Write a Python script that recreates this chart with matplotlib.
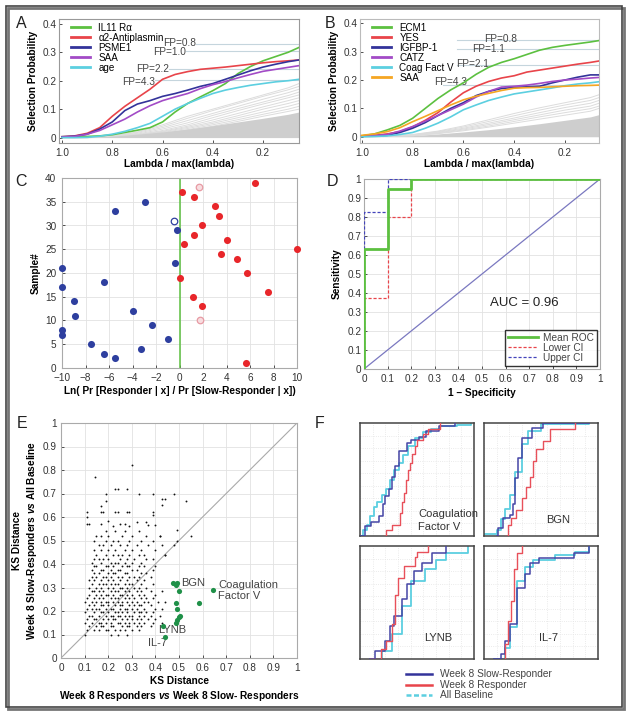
import matplotlib
matplotlib.use("Agg")
import matplotlib.pyplot as plt
from matplotlib.lines import Line2D
from matplotlib.patches import Rectangle
import numpy as np

plt.rcParams['font.family'] = ['Liberation Sans', 'DejaVu Sans']
plt.rcParams['mathtext.fontset'] = 'custom'
plt.rcParams['mathtext.it'] = 'Liberation Sans:italic:bold'
plt.rcParams['mathtext.rm'] = 'Liberation Sans:bold'

W, H = 629, 714
fig = plt.figure(figsize=(W / 100, H / 100), dpi=100)

# ---------------- data ----------------
lam = [1.0, 0.95, 0.9, 0.85, 0.8, 0.75, 0.7, 0.65, 0.6, 0.55, 0.5, 0.45, 0.4, 0.35, 0.3, 0.25, 0.2, 0.15, 0.1, 0.057]
lamB = [1.0, 0.95, 0.9, 0.85, 0.8, 0.75, 0.7, 0.65, 0.6, 0.55, 0.5, 0.45, 0.4, 0.35, 0.3, 0.25, 0.2, 0.15, 0.1, 0.066]

A_names = ["IL11 R\u03b1", "\u03b12-Antiplasmin", "PSME1", "SAA", "age"]
A_il11 = [0.003, 0.003, 0.004, 0.006, 0.01, 0.018, 0.026, 0.035, 0.055, 0.09, 0.12, 0.143, 0.165, 0.19, 0.225, 0.25, 0.27, 0.285, 0.3, 0.317]
A_a2ap = [0.003, 0.006, 0.015, 0.035, 0.075, 0.11, 0.14, 0.17, 0.205, 0.222, 0.232, 0.24, 0.244, 0.248, 0.253, 0.258, 0.263, 0.267, 0.27, 0.273]
A_psme1 = [0.003, 0.005, 0.012, 0.03, 0.055, 0.095, 0.118, 0.13, 0.145, 0.155, 0.167, 0.18, 0.19, 0.205, 0.22, 0.235, 0.248, 0.258, 0.267, 0.273]
A_saa = [0.002, 0.004, 0.012, 0.025, 0.045, 0.065, 0.09, 0.112, 0.13, 0.143, 0.155, 0.172, 0.186, 0.197, 0.21, 0.222, 0.233, 0.24, 0.247, 0.253]
A_age = [0.0, 0.0, 0.001, 0.005, 0.012, 0.022, 0.035, 0.05, 0.075, 0.1, 0.12, 0.138, 0.155, 0.167, 0.176, 0.184, 0.19, 0.196, 0.2, 0.205]

B_names = ["ECM1", "YES", "IGFBP-1", "CATZ", "Coag Fact V", "SAA"]
B_ecm1 = [0.003, 0.01, 0.024, 0.04, 0.065, 0.1, 0.135, 0.165, 0.19, 0.22, 0.245, 0.262, 0.275, 0.29, 0.305, 0.315, 0.322, 0.328, 0.334, 0.339]
B_yes = [0.003, 0.005, 0.01, 0.018, 0.035, 0.058, 0.085, 0.122, 0.155, 0.178, 0.195, 0.207, 0.215, 0.228, 0.235, 0.242, 0.249, 0.256, 0.262, 0.267]
B_igfbp1 = [0.002, 0.003, 0.005, 0.015, 0.03, 0.05, 0.075, 0.1, 0.12, 0.145, 0.16, 0.17, 0.174, 0.176, 0.178, 0.19, 0.2, 0.21, 0.218, 0.218]
B_catz = [0.002, 0.004, 0.008, 0.02, 0.036, 0.055, 0.075, 0.095, 0.115, 0.14, 0.16, 0.175, 0.178, 0.182, 0.188, 0.195, 0.2, 0.203, 0.207, 0.209]
B_coagv = [0.0, 0.001, 0.003, 0.008, 0.015, 0.03, 0.048, 0.07, 0.095, 0.112, 0.128, 0.14, 0.151, 0.158, 0.165, 0.172, 0.18, 0.186, 0.19, 0.194]
B_saa = [0.005, 0.01, 0.018, 0.032, 0.053, 0.072, 0.092, 0.112, 0.13, 0.143, 0.153, 0.163, 0.171, 0.173, 0.174, 0.176, 0.178, 0.18, 0.181, 0.182]

grid_lam = [1.0, 0.9, 0.8, 0.7, 0.6, 0.5, 0.4, 0.3, 0.2, 0.1, 0.057]
A_grey = [
    [0, 0.002, 0.006, 0.02, 0.045, 0.075, 0.10, 0.125, 0.15, 0.175, 0.19],
    [0, 0.001, 0.005, 0.018, 0.04, 0.068, 0.095, 0.12, 0.145, 0.168, 0.18],
    [0, 0.001, 0.004, 0.015, 0.035, 0.06, 0.085, 0.11, 0.135, 0.158, 0.17],
    [0, 0.001, 0.004, 0.012, 0.03, 0.052, 0.078, 0.102, 0.125, 0.148, 0.16],
    [0, 0.0, 0.003, 0.01, 0.025, 0.045, 0.07, 0.095, 0.118, 0.14, 0.15],
    [0, 0.0, 0.003, 0.01, 0.022, 0.04, 0.062, 0.085, 0.108, 0.13, 0.14],
    [0, 0.0, 0.002, 0.008, 0.02, 0.036, 0.055, 0.077, 0.1, 0.12, 0.13],
    [0, 0.0, 0.002, 0.007, 0.018, 0.032, 0.05, 0.07, 0.09, 0.11, 0.12],
    [0, 0.0, 0.002, 0.006, 0.015, 0.028, 0.045, 0.063, 0.082, 0.1, 0.11],
    [0, 0.0, 0.001, 0.005, 0.013, 0.025, 0.04, 0.057, 0.075, 0.092, 0.10],
]
A_dense = [0, 0.001, 0.005, 0.012, 0.02, 0.03, 0.042, 0.055, 0.068, 0.082, 0.09]
grid_lamB = [1.0, 0.9, 0.8, 0.7, 0.6, 0.5, 0.4, 0.3, 0.2, 0.1, 0.066]
B_grey = [
    [0, 0.002, 0.008, 0.02, 0.038, 0.06, 0.082, 0.102, 0.12, 0.138, 0.148],
    [0, 0.002, 0.007, 0.018, 0.034, 0.054, 0.074, 0.094, 0.112, 0.128, 0.138],
    [0, 0.001, 0.006, 0.016, 0.03, 0.048, 0.066, 0.085, 0.103, 0.118, 0.128],
    [0, 0.001, 0.005, 0.014, 0.027, 0.043, 0.06, 0.077, 0.094, 0.108, 0.118],
    [0, 0.001, 0.004, 0.012, 0.024, 0.038, 0.054, 0.07, 0.085, 0.099, 0.108],
    [0, 0.001, 0.004, 0.011, 0.021, 0.034, 0.048, 0.062, 0.076, 0.09, 0.1],
]
B_dense = [0, 0.001, 0.004, 0.01, 0.017, 0.025, 0.035, 0.046, 0.058, 0.07, 0.078]

A_fp_labels = ["FP=0.8", "FP=1.0", "FP=2.2", "FP=4.3"]
A_fp_levels = [0.33, 0.303, 0.242, 0.203]
A_fp_text_y = [0.334, 0.30, 0.242, 0.197]
A_fp_start = [0.465, 0.505, 0.575, 0.63]
B_fp_labels = ["FP=0.8", "FP=1.1", "FP=2.1", "FP=4.3"]
B_fp_levels = [0.341, 0.309, 0.252, 0.182]
B_fp_text_y = [0.344, 0.308, 0.257, 0.193]
B_fp_text_x = [0.39, 0.436, 0.50, 0.587]
B_fp_start = [0.626, 0.626, 0.626, 0.68]

C_slow_x = [-10, -10, -10, -10, -9.0, -8.9, -7.5, -6.4, -6.4, -5.5, -5.5, -4.0, -3.3, -2.9, -2.3, -1.0, -0.4, -0.2]
C_slow_y = [21, 17, 8, 7, 14, 11, 5, 3, 18, 2, 33, 12, 4, 35, 9, 6, 22, 29]
C_slow_open_x = [-0.5]
C_slow_open_y = [31]
C_resp_x = [0.2, 1.2, 0.05, 0.4, 1.25, 1.9, 1.15, 1.9, 3.0, 3.4, 4.0, 3.5, 4.9, 5.75, 7.5, 10.0, 6.4, 5.7]
C_resp_y = [37, 36, 19, 26, 28, 30, 15, 13, 34, 32, 27, 24, 23, 20, 16, 25, 39, 1]
C_resp_open_x = [1.7, 1.75]
C_resp_open_y = [38, 10]

D_mean_x = [0, 0, 0.1, 0.1, 0.2, 0.2, 1.0]
D_mean_y = [0, 0.632, 0.632, 0.95, 0.95, 1.0, 1.0]
D_low_x = [0, 0, 0.1, 0.1, 0.2, 0.2, 1.0]
D_low_y = [0, 0.375, 0.375, 0.8, 0.8, 1.0, 1.0]
D_up_x = [0, 0, 0.1, 0.1, 1.0]
D_up_y = [0, 0.825, 0.825, 1.0, 1.0]

E_rows_y = [0.10, 0.12, 0.135, 0.15, 0.165, 0.18, 0.195, 0.21, 0.225, 0.24, 0.255, 0.27, 0.285, 0.30,
            0.315, 0.33, 0.345, 0.36, 0.375, 0.39, 0.405, 0.42, 0.44, 0.46, 0.48, 0.50, 0.52, 0.54]
E_rows_x = [
    [0.10, 0.21, 0.24, 0.28],
    [0.11, 0.14, 0.16, 0.19, 0.20, 0.23, 0.25, 0.27, 0.30, 0.33],
    [0.12, 0.15, 0.17, 0.18, 0.21, 0.22, 0.26, 0.28, 0.29, 0.32, 0.34, 0.38],
    [0.10, 0.13, 0.16, 0.17, 0.19, 0.21, 0.24, 0.25, 0.27, 0.29, 0.31, 0.33, 0.35, 0.39, 0.43],
    [0.11, 0.14, 0.15, 0.18, 0.20, 0.22, 0.23, 0.26, 0.28, 0.30, 0.32, 0.34, 0.37, 0.40],
    [0.12, 0.13, 0.16, 0.19, 0.21, 0.22, 0.24, 0.25, 0.27, 0.29, 0.30, 0.33, 0.35, 0.38, 0.42],
    [0.10, 0.14, 0.17, 0.18, 0.20, 0.23, 0.24, 0.26, 0.28, 0.31, 0.33, 0.34, 0.36, 0.39],
    [0.11, 0.13, 0.15, 0.16, 0.19, 0.21, 0.22, 0.25, 0.27, 0.28, 0.30, 0.32, 0.35, 0.40, 0.43],
    [0.12, 0.14, 0.17, 0.18, 0.20, 0.23, 0.25, 0.26, 0.29, 0.31, 0.33, 0.34, 0.38],
    [0.10, 0.13, 0.15, 0.17, 0.19, 0.20, 0.22, 0.24, 0.26, 0.28, 0.30, 0.32, 0.35, 0.37, 0.41, 0.44],
    [0.11, 0.14, 0.16, 0.18, 0.21, 0.23, 0.24, 0.27, 0.29, 0.31, 0.34, 0.36, 0.39],
    [0.12, 0.15, 0.17, 0.19, 0.20, 0.22, 0.25, 0.26, 0.28, 0.30, 0.33, 0.35, 0.40],
    [0.13, 0.14, 0.16, 0.18, 0.21, 0.23, 0.24, 0.27, 0.29, 0.32, 0.34, 0.38, 0.43],
    [0.12, 0.15, 0.17, 0.20, 0.22, 0.25, 0.26, 0.28, 0.31, 0.33, 0.36],
    [0.13, 0.16, 0.18, 0.19, 0.21, 0.23, 0.24, 0.27, 0.29, 0.30, 0.34, 0.39],
    [0.12, 0.14, 0.17, 0.20, 0.22, 0.25, 0.28, 0.32, 0.35],
    [0.13, 0.15, 0.18, 0.19, 0.21, 0.24, 0.26, 0.29, 0.31, 0.33, 0.38],
    [0.14, 0.16, 0.20, 0.22, 0.23, 0.27, 0.28, 0.34, 0.36],
    [0.13, 0.17, 0.18, 0.21, 0.24, 0.25, 0.30, 0.32, 0.39],
    [0.14, 0.15, 0.19, 0.20, 0.22, 0.26, 0.28, 0.29, 0.33, 0.35, 0.40],
    [0.13, 0.17, 0.21, 0.23, 0.24, 0.27, 0.30, 0.34],
    [0.14, 0.16, 0.18, 0.20, 0.25, 0.28, 0.31, 0.36, 0.39],
    [0.15, 0.19, 0.22, 0.24, 0.26, 0.29, 0.33, 0.35, 0.44],
    [0.14, 0.17, 0.20, 0.23, 0.27, 0.30, 0.34, 0.40],
    [0.16, 0.18, 0.21, 0.25, 0.28, 0.32, 0.37, 0.43],
    [0.14, 0.19, 0.22, 0.24, 0.29, 0.34, 0.39],
    [0.15, 0.17, 0.20, 0.26, 0.30, 0.36, 0.42],
    [0.19, 0.23, 0.27, 0.33],
]
E_out_x = [0.30, 0.145, 0.19, 0.19, 0.23, 0.24, 0.28, 0.33, 0.39, 0.43, 0.44, 0.43, 0.48, 0.53, 0.17, 0.11, 0.11,
           0.17, 0.18, 0.23, 0.24, 0.28, 0.29, 0.39, 0.39, 0.11, 0.12, 0.17, 0.20, 0.25, 0.27, 0.32, 0.36, 0.37,
           0.40, 0.22, 0.29, 0.49, 0.49, 0.55, 0.48, 0.42, 0.44]
E_out_y = [0.82, 0.77, 0.70, 0.67, 0.72, 0.72, 0.72, 0.70, 0.70, 0.675, 0.675, 0.65, 0.70, 0.67, 0.645, 0.62, 0.60,
           0.62, 0.62, 0.62, 0.62, 0.62, 0.62, 0.62, 0.61, 0.57, 0.57, 0.57, 0.585, 0.57, 0.57, 0.58, 0.58, 0.565,
           0.565, 0.56, 0.56, 0.545, 0.50, 0.52, 0.48, 0.52, 0.44]
E_sel_x = [0.476, 0.487, 0.493, 0.50, 0.643, 0.586, 0.489, 0.493, 0.499, 0.49, 0.489, 0.434, 0.442, 0.505]
E_sel_y = [0.318, 0.312, 0.32, 0.286, 0.288, 0.234, 0.233, 0.21, 0.173, 0.162, 0.148, 0.138, 0.091, 0.178]

F_titles = ["Coagulation\nFactor V", "BGN", "LYNB", "IL-7"]
F_slow_x = [
    [0.0, 0.04, 0.10, 0.17, 0.20, 0.22, 0.25, 0.28, 0.31, 0.34, 0.41, 0.45, 0.52, 0.58, 0.69, 0.83],
    [0.11, 0.12, 0.17, 0.23, 0.25, 0.27, 0.30, 0.33, 0.42, 0.52, 0.92],
    [0.09, 0.13, 0.22, 0.26, 0.30, 0.37, 0.41, 0.47, 0.54, 0.63, 0.75],
    [0.09, 0.15, 0.18, 0.23, 0.29, 0.36, 0.40, 0.48, 0.79, 0.92],
]
F_slow_y = [
    [0.0, 0.09, 0.12, 0.18, 0.28, 0.35, 0.42, 0.52, 0.62, 0.75, 0.82, 0.85, 0.88, 0.93, 0.97, 1.0],
    [0.0, 0.07, 0.16, 0.19, 0.28, 0.51, 0.69, 0.87, 0.96, 1.0, 1.0],
    [0.0, 0.07, 0.16, 0.29, 0.38, 0.53, 0.66, 0.78, 0.85, 0.94, 1.0],
    [0.0, 0.04, 0.16, 0.31, 0.63, 0.75, 0.85, 0.89, 0.94, 1.0],
]
F_resp_x = [
    [0.21, 0.23, 0.28, 0.35, 0.37, 0.39, 0.40, 0.42, 0.44, 0.46, 0.48, 0.50, 0.55, 0.60, 0.70],
    [0.18, 0.21, 0.24, 0.28, 0.33, 0.37, 0.40, 0.43, 0.46, 0.52, 0.58, 0.80],
    [0.09, 0.18, 0.23, 0.28, 0.31, 0.33, 0.39, 0.48, 0.50, 0.60],
    [0.17, 0.18, 0.21, 0.24, 0.26, 0.29, 0.33],
]
F_resp_y = [
    [0.0, 0.05, 0.10, 0.20, 0.30, 0.38, 0.50, 0.58, 0.65, 0.73, 0.80, 0.85, 0.90, 0.95, 1.0],
    [0.0, 0.10, 0.16, 0.23, 0.34, 0.43, 0.52, 0.66, 0.77, 0.84, 0.95, 1.0],
    [0.0, 0.09, 0.16, 0.31, 0.57, 0.72, 0.82, 0.90, 0.95, 1.0],
    [0.0, 0.13, 0.34, 0.51, 0.80, 0.94, 1.0],
]
F_base_x = [
    [0.0, 0.03, 0.06, 0.09, 0.12, 0.15, 0.19, 0.23, 0.26, 0.30, 0.34, 0.38, 0.42, 0.48, 0.55, 0.62, 0.70, 0.85, 0.97],
    [0.0, 0.11, 0.15, 0.18, 0.23, 0.27, 0.33, 0.39, 0.50, 0.92],
    [0.13, 0.19, 0.28, 0.37, 0.45, 0.57, 0.67, 0.75, 0.95],
    [0.09, 0.18, 0.23, 0.29, 0.36, 0.43, 0.62, 0.80, 0.92],
]
F_base_y = [
    [0.0, 0.05, 0.10, 0.18, 0.26, 0.30, 0.36, 0.42, 0.50, 0.58, 0.65, 0.72, 0.80, 0.87, 0.92, 0.95, 0.97, 0.98, 0.99],
    [0.02, 0.05, 0.15, 0.24, 0.36, 0.57, 0.81, 0.93, 0.99, 1.0],
    [0.0, 0.07, 0.22, 0.47, 0.69, 0.80, 0.88, 0.94, 0.99],
    [0.0, 0.10, 0.28, 0.69, 0.81, 0.88, 0.92, 0.95, 1.0],
]

# ---------------- styles ----------------
c_green = '#5cc040'
c_red = '#e8444a'
c_blue = '#33339a'
c_purple = '#a24bc6'
c_cyan = '#5ccfe0'
c_orange = '#f5a623'
tick_col = '#333333'
TFS = 7.2
LFS = 7.3


def ax_px(l, t, r, b):
    return fig.add_axes([l / W, 1 - b / H, (r - l) / W, (b - t) / H])


def style(ax, spine_col='#999999'):
    for s in ax.spines.values():
        s.set_color(spine_col)
        s.set_linewidth(0.8)
    ax.tick_params(labelsize=TFS, colors=tick_col, length=2, width=0.6, direction='in', pad=2)
    ax.tick_params(axis='x', pad=3.5)


bold_font = ['Liberation Sans', 'DejaVu Sans']

# ---------------- Panel A ----------------
axA = ax_px(59, 19, 299, 143)
for g in A_grey:
    axA.plot(grid_lam, g, color='#dcdcdc', lw=0.7, zorder=1)
axA.fill_between(grid_lam, 0, A_dense, color='#cecece', lw=0, zorder=1)
for lev, st in zip(A_fp_levels, A_fp_start):
    axA.plot([st, 0.057], [lev, lev], color='#c5d5dd', lw=0.8, zorder=2)
for lab, ty, st in zip(A_fp_labels, A_fp_text_y, A_fp_start):
    axA.text(st, ty, lab, ha='right', va='center', fontsize=7.3, color='#444444', zorder=3)
for ys, col, nm in zip([A_il11, A_a2ap, A_psme1, A_saa, A_age],
                       [c_green, c_red, c_blue, c_purple, c_cyan], A_names):
    axA.plot(lam, ys, color=col, lw=1.2, label=nm, zorder=4)
axA.set_xlim(1.012, 0.057)
axA.set_ylim(-0.019, 0.417)
axA.set_xticks([1.0, 0.8, 0.6, 0.4, 0.2])
axA.set_xticklabels(["1.0", "0.8", "0.6", "0.4", "0.2"])
axA.set_yticks([0, 0.1, 0.2, 0.3, 0.4])
axA.set_yticklabels(["0", "0.1", "0.2", "0.3", "0.4"])
style(axA)
axA.set_xlabel("Lambda / max(lambda)", fontsize=LFS, fontweight='bold', family=bold_font, labelpad=1)
axA.set_ylabel("Selection Probability", fontsize=LFS, fontweight='bold', family=bold_font, labelpad=3)
legA = axA.legend(loc='upper left', bbox_to_anchor=(0.02, 1.025), frameon=False, fontsize=7.1,
                  handlelength=2.0, handletextpad=0.8, labelspacing=0.0, borderpad=0.2)
for l in legA.get_lines():
    l.set_linewidth(2)

# ---------------- Panel B ----------------
axB = ax_px(360, 19, 599, 143)
for g in B_grey:
    axB.plot(grid_lamB, g, color='#dcdcdc', lw=0.7, zorder=1)
axB.fill_between(grid_lamB, 0, B_dense, color='#cecece', lw=0, zorder=1)
for lev, st in zip(B_fp_levels, B_fp_start):
    axB.plot([st, 0.066], [lev, lev], color='#c5d5dd', lw=0.8, zorder=2)
for lab, ty, tx in zip(B_fp_labels, B_fp_text_y, B_fp_text_x):
    axB.text(tx, ty, lab, ha='right', va='center', fontsize=7.3, color='#444444', zorder=3)
for ys, col, nm in zip([B_ecm1, B_yes, B_igfbp1, B_catz, B_coagv, B_saa],
                       [c_green, c_red, c_blue, c_purple, c_cyan, c_orange], B_names):
    axB.plot(lamB, ys, color=col, lw=1.2, label=nm, zorder=4)
axB.set_xlim(1.007, 0.066)
axB.set_ylim(-0.022, 0.415)
axB.set_xticks([1.0, 0.8, 0.6, 0.4, 0.2])
axB.set_xticklabels(["1.0", "0.8", "0.6", "0.4", "0.2"])
axB.set_yticks([0, 0.1, 0.2, 0.3, 0.4])
axB.set_yticklabels(["0", "0.1", "0.2", "0.3", "0.4"])
style(axB, '#bbbbbb')
axB.set_xlabel("Lambda / max(lambda)", fontsize=LFS, fontweight='bold', family=bold_font, labelpad=1)
axB.set_ylabel("Selection Probability", fontsize=LFS, fontweight='bold', family=bold_font, labelpad=3)
legB = axB.legend(loc='upper left', bbox_to_anchor=(0.02, 1.025), frameon=False, fontsize=7.1,
                  handlelength=2.0, handletextpad=0.8, labelspacing=0.0, borderpad=0.2)
for l in legB.get_lines():
    l.set_linewidth(2)

# ---------------- Panel C ----------------
axC = ax_px(62, 178, 297, 368)
axC.grid(True, color='#e2e2e2', lw=0.6)
axC.set_axisbelow(True)
axC.axvline(0, color=c_green, lw=1.1, zorder=2)
axC.scatter(C_slow_x, C_slow_y, s=26, color='#2e3f9f', zorder=3, clip_on=False, lw=0)
axC.scatter(C_slow_open_x, C_slow_open_y, s=22, facecolor='white', edgecolor='#2e3f9f', lw=0.9, zorder=3)
axC.scatter(C_resp_x, C_resp_y, s=26, color='#e8262a', zorder=3, clip_on=False, lw=0)
axC.scatter(C_resp_open_x, C_resp_open_y, s=22, facecolor='#f8dde0', edgecolor='#e79aa3', lw=0.9, zorder=3)
axC.set_xlim(-10, 10)
axC.set_ylim(0, 40)
axC.set_xticks(range(-10, 11, 2))
axC.set_yticks(range(0, 41, 5))
style(axC, '#aaaaaa')
axC.tick_params(axis='y', pad=4)
axC.set_xlabel("Ln( Pr [Responder | x] / Pr [Slow-Responder | x])", fontsize=LFS, fontweight='bold',
               family=bold_font, labelpad=2)
axC.set_ylabel("Sample#", fontsize=LFS, fontweight='bold', family=bold_font, labelpad=3)

# ---------------- Panel D ----------------
axD = ax_px(364, 179, 600, 369)
axD.grid(True, color='#e2e2e2', lw=0.6)
axD.set_axisbelow(True)
axD.plot([0, 1], [0, 1], color='#7a78c0', lw=0.9, zorder=2)
axD.plot(D_low_x, D_low_y, color='#e8444a', lw=0.9, ls=(0, (2.5, 1.5)), label='Lower CI', zorder=3)
axD.plot(D_up_x, D_up_y, color='#4444bb', lw=0.9, ls=(0, (2.5, 1.5)), label='Upper CI', zorder=3)
axD.plot(D_mean_x, D_mean_y, color=c_green, lw=2.0, label='Mean ROC', zorder=4)
axD.set_xlim(0, 1)
axD.set_ylim(0, 1)
axD.set_xticks(np.arange(0, 1.01, 0.1))
axD.set_xticklabels(["0"] + ["%.1f" % v for v in np.arange(0.1, 0.95, 0.1)] + ["1"])
axD.set_yticks(np.arange(0, 1.01, 0.1))
axD.set_yticklabels(["0"] + ["%.1f" % v for v in np.arange(0.1, 0.95, 0.1)] + ["1"])
style(axD, '#aaaaaa')
axD.text(0.68, 0.345, "AUC = 0.96", fontsize=9.5, ha='center', va='center', color='#222222')
h = axD.get_legend_handles_labels()
order = [2, 0, 1]
legD = axD.legend([h[0][i] for i in order], [h[1][i] for i in order], loc='lower right',
                  fontsize=7.3, frameon=True, fancybox=False, edgecolor='black', handlelength=3.0,
                  labelspacing=0.0, borderpad=0.3, borderaxespad=0.3, handletextpad=0.5)
legD.get_frame().set_linewidth(1.0)
for t in legD.get_texts():
    t.set_color('#444444')
axD.set_xlabel("1 \u2013 Specificity", fontsize=LFS, fontweight='bold', family=bold_font, labelpad=3)
axD.set_ylabel("Sensitivity", fontsize=LFS, fontweight='bold', family=bold_font, labelpad=4)

# ---------------- Panel E ----------------
axE = ax_px(61, 423, 297, 658)
axE.grid(True, color='#e2e2e2', lw=0.6)
axE.set_axisbelow(True)
axE.plot([0, 1], [0, 1], color='#aaaaaa', lw=0.8, zorder=2)
ex = [x for row in E_rows_x for x in row] + E_out_x
ey = [y for y, row in zip(E_rows_y, E_rows_x) for _ in row] + E_out_y
axE.scatter(ex, ey, s=1.8, color='#111111', lw=0, zorder=3)
axE.scatter(E_sel_x, E_sel_y, s=14, color='#1f9048', lw=0, zorder=4)
axE.text(0.508, 0.32, "BGN", fontsize=8, color='#444444', va='center', ha='left')
axE.text(0.665, 0.31, "Coagulation", fontsize=8, color='#444444', va='center', ha='left')
axE.text(0.665, 0.262, "Factor V", fontsize=8, color='#444444', va='center', ha='left')
axE.text(0.473, 0.119, "LYNB", fontsize=8, color='#444444', va='center', ha='center')
axE.text(0.41, 0.064, "IL-7", fontsize=8, color='#444444', va='center', ha='center')
axE.set_xlim(0, 1)
axE.set_ylim(0, 1)
axE.set_xticks(np.arange(0, 1.01, 0.1))
axE.set_xticklabels(["0"] + ["%.1f" % v for v in np.arange(0.1, 0.95, 0.1)] + ["1"])
axE.set_yticks(np.arange(0, 1.01, 0.1))
axE.set_yticklabels(["0"] + ["%.1f" % v for v in np.arange(0.1, 0.95, 0.1)] + ["1"])
style(axE, '#aaaaaa')
axE.tick_params(axis='y', pad=3)
axE.set_xlabel("KS Distance\nWeek 8 Responders $\\it{vs}$ Week 8 Slow- Responders", fontsize=LFS,
               fontweight='bold', family=bold_font, labelpad=2, linespacing=1.3)
axE.set_ylabel("KS Distance\nWeek 8 Slow-Responders $\\it{vs}$ All Baseline", fontsize=LFS,
               fontweight='bold', family=bold_font, labelpad=3, linespacing=1.3)

# ---------------- Panel F ----------------
F_boxes = [(360, 423, 474, 536), (484, 423, 598, 536), (360, 546, 474, 659), (484, 546, 598, 659)]
F_text_pos = [(0.51, 0.14, 'left'), (0.65, 0.14, 'center'), (0.69, 0.19, 'center'), (0.57, 0.19, 'center')]
for k, box in enumerate(F_boxes):
    ax = ax_px(*box)
    ax.set_xlim(0, 1)
    ax.set_ylim(0, 1)
    ax.set_xticks(np.arange(0, 1.0, 1 / 9))
    ax.set_yticks(np.arange(0, 1.0, 1 / 9))
    ax.grid(True, color='#e4e4e4', lw=0.6, ls=':')
    ax.tick_params(length=0, labelbottom=False, labelleft=False)
    for s in ax.spines.values():
        s.set_color('#444444')
        s.set_linewidth(1.1)
    ax.step(F_base_x[k], F_base_y[k], where='post', color=c_cyan, lw=1.3, zorder=2)
    ax.step(F_slow_x[k], F_slow_y[k], where='post', color='#4545a5', lw=1.1, zorder=3)
    ax.step(F_resp_x[k], F_resp_y[k], where='post', color='#e8505a', lw=1.0, zorder=3)
    tx, ty, ha = F_text_pos[k]
    ax.text(tx, ty, F_titles[k], fontsize=8, color='#333333', ha=ha, va='center', linespacing=1.4,
            transform=ax.transAxes)

# F legend (figure-level)
F_leg_labels = ["Week 8 Slow-Responder", "Week 8 Responder", "All Baseline"]
F_leg_colors = ['#33339a', '#e8444a', c_cyan]
F_leg_ls = ['-', '-', (0, (2, 1))]
for i, (lab, col, ls) in enumerate(zip(F_leg_labels, F_leg_colors, F_leg_ls)):
    yy = 1 - (674 + i * 10.5) / H
    fig.add_artist(Line2D([406 / W, 432 / W], [yy, yy], color=col, lw=1.8, ls=ls, transform=fig.transFigure))
    fig.text(440 / W, yy, lab, fontsize=7.3, color='#444444', va='center', ha='left')

# ---------------- panel letters ----------------
for lab, (x, y) in zip("ABCDEF", [(21, 23), (330, 23), (21, 181), (332, 181), (22, 424), (320, 424)]):
    fig.text(x / W, 1 - y / H, lab, fontsize=11.5, ha='center', va='center', color='#222222')

# outer frame
fig.add_artist(Rectangle((8 / W, 1 - 709 / H), 616 / W, 701 / H, transform=fig.transFigure,
                         fill=False, edgecolor='#777777', lw=2.0))
fig.add_artist(Rectangle((6 / W, 1 - 707 / H), 616 / W, 701 / H, transform=fig.transFigure,
                         fill=False, edgecolor='#444444', lw=1.2))

fig.savefig("out.png", dpi=100, facecolor='white')
